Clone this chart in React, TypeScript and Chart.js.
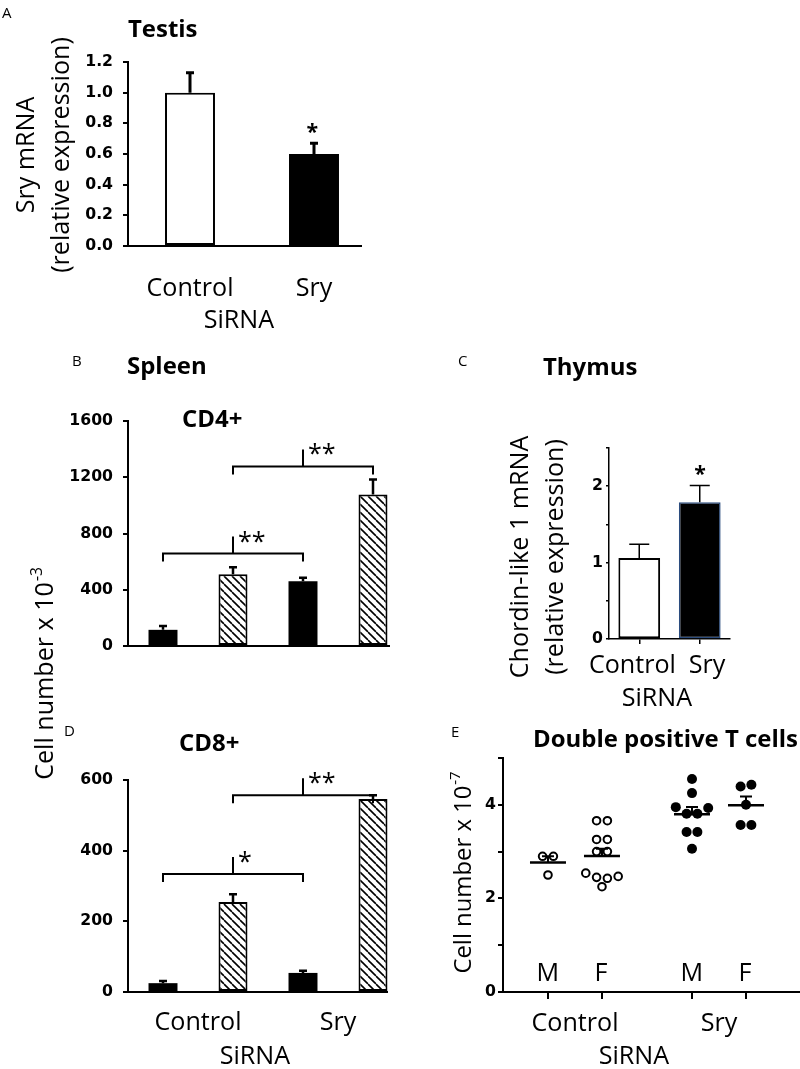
import React, { useEffect, useRef } from 'react';
import { Chart, registerables } from 'chart.js';

Chart.register(...registerables);

// ---------------- data ----------------
const testisCategories = ['Control', 'Sry'];
const testisValues = [1.0, 0.6];
const testisErrors = [0.13, 0.07];
const testisYTicks = [0, 0.2, 0.4, 0.6, 0.8, 1.0, 1.2];

const spleenGroups = ['Control', 'Sry'];
const spleenBars = ['Control (solid)', 'Control (hatched)', 'Sry (solid)', 'Sry (hatched)'];
const spleenFills = ['solid', 'hatched', 'solid', 'hatched'];

const cd4Values = [115, 510, 460, 1078];
const cd4Errors = [27, 50, 26, 106];
const cd4YTicks = [0, 400, 800, 1200, 1600];
const cd4Brackets = [
  { from: 0, to: 2, level: 657, label: '**' },
  { from: 1, to: 3, level: 1277, label: '**' },
];

const cd8Values = [25, 255, 54, 546];
const cd8Errors = [6, 22, 6, 11];
const cd8YTicks = [0, 200, 400, 600];
const cd8Brackets = [
  { from: 0, to: 2, level: 334, label: '*' },
  { from: 1, to: 3, level: 557, label: '**' },
];

const thymusCategories = ['Control', 'Sry'];
const thymusValues = [1.06, 1.79];
const thymusErrors = [0.18, 0.22];
const thymusYTicks = [0, 0.5, 1, 1.5, 2, 2.5];

const dpGroups = ['Control', 'Sry'];
const dpSexes = ['M', 'F'];
const dpControlM = [2.9, 2.9, 2.5];
const dpControlF = [3.66, 3.66, 3.26, 3.26, 3.0, 3.0, 2.54, 2.45, 2.43, 2.47, 2.25];
const dpSryM = [4.55, 4.25, 3.95, 3.81, 3.81, 3.93, 3.42, 3.42, 3.06];
const dpSryF = [4.39, 4.43, 4.0, 3.57, 3.57];
const dpYTicks = [0, 1, 2, 3, 4, 5];

// ---------------- layout / style ----------------
const W = 800;
const H = 1069;
const YW = 60;
const SANS = "'Open Sans', 'DejaVu Sans', sans-serif";
const TICKF = "'DejaVu Sans', sans-serif";

type Area = { left: number; top: number; right: number; bottom: number };
const areaA: Area = { left: 128, top: 62, right: 376, bottom: 246 };
const areaB: Area = { left: 128, top: 421, right: 408, bottom: 646 };
const areaC: Area = { left: 609, top: 448, right: 730, bottom: 639 };
const areaD: Area = { left: 128, top: 780, right: 408, bottom: 992 };
const areaE: Area = { left: 503, top: 758, right: 800, bottom: 992 };

const GROUP_GAP = 2.667;
const E_X_MIN = -0.833;
const E_X_MAX = 4.667;
const SWARM_STEP = 0.2;
const C_LABEL_SHIFT = [-7, 8];

function pad(a: Area, xh: number) {
  return { left: a.left - YW, top: a.top, right: W - a.right, bottom: H - a.bottom - xh };
}

function measureFonts() {
  const c = document.createElement('canvas').getContext('2d')!;
  const inkW = (t: string, f: string) => {
    c.font = f;
    const m = c.measureText(t);
    return m.actualBoundingBoxLeft + m.actualBoundingBoxRight;
  };
  const fit = (t: string, w: string, fam: string, target: number) => (100 * target) / inkW(t, `${w} 100px ${fam}`);
  const avg = (a: number[]) => a.reduce((s, v) => s + v, 0) / a.length;
  const title = avg([
    fit('Testis', 'bold', SANS, 64),
    fit('Spleen', 'bold', SANS, 79),
    fit('Thymus', 'bold', SANS, 90),
    fit('CD4+', 'bold', SANS, 62),
    fit('Double positive T cells', 'bold', SANS, 263),
  ]);
  const label = avg([
    fit('Control', 'normal', SANS, 86),
    fit('SiRNA', 'normal', SANS, 69),
    fit('(relative expression)', 'normal', SANS, 228),
  ]);
  const tick = 1.08 * avg([fit('1600', 'bold', TICKF, 38), fit('1.2', 'bold', TICKF, 23)]);
  c.font = `${label}px ${SANS}`;
  c.textBaseline = 'middle';
  const below = c.measureText('H').actualBoundingBoxDescent;
  return { title, label, tick, below };
}

function makeHatch() {
  const p = 8;
  const c = document.createElement('canvas');
  c.width = p;
  c.height = p;
  const g = c.getContext('2d')!;
  g.fillStyle = '#fff';
  g.fillRect(0, 0, p, p);
  g.strokeStyle = '#000';
  g.lineWidth = 1.6;
  for (let k = -1; k <= 1; k++) {
    g.beginPath();
    g.moveTo(k * p, 0);
    g.lineTo(k * p + p, p);
    g.stroke();
  }
  return g.createPattern(c, 'repeat')!;
}

function ink(ctx: CanvasRenderingContext2D, text: string, x: number, y: number, font: string,
  h: 'left' | 'center' | 'right' = 'left', v: 'base' | 'mid' = 'base') {
  ctx.save();
  ctx.font = font;
  ctx.fillStyle = '#000';
  ctx.textAlign = 'left';
  ctx.textBaseline = 'alphabetic';
  const m = ctx.measureText(text);
  const L = m.actualBoundingBoxLeft;
  const R = m.actualBoundingBoxRight;
  const ax = h === 'left' ? x + L : h === 'center' ? x - (R - L) / 2 : x - R;
  const ay = v === 'base' ? y : y - (m.actualBoundingBoxDescent - m.actualBoundingBoxAscent) / 2;
  ctx.fillText(text, ax, ay);
  ctx.restore();
}

function rotLines(ctx: CanvasRenderingContext2D, lines: string[], xs: number[], cy: number, size: number) {
  lines.forEach((t, i) => {
    ctx.save();
    ctx.translate(xs[i], cy);
    ctx.rotate(-Math.PI / 2);
    ctx.font = `${size}px ${SANS}`;
    ctx.fillStyle = '#000';
    ctx.textAlign = 'center';
    ctx.textBaseline = 'alphabetic';
    const capH = ctx.measureText('H').actualBoundingBoxAscent;
    ctx.fillText(t, 0, capH / 2);
    ctx.restore();
  });
}

function rotSup(ctx: CanvasRenderingContext2D, main: string, sup: string, cx: number, cy: number, size: number) {
  const supSize = size * 0.62;
  ctx.save();
  ctx.translate(cx, cy);
  ctx.rotate(-Math.PI / 2);
  ctx.fillStyle = '#000';
  ctx.textAlign = 'left';
  ctx.textBaseline = 'alphabetic';
  ctx.font = `${size}px ${SANS}`;
  const wm = ctx.measureText(main).width;
  const capH = ctx.measureText('H').actualBoundingBoxAscent;
  ctx.font = `${supSize}px ${SANS}`;
  const ws = ctx.measureText(sup).width;
  const x0 = -(wm + ws) / 2;
  ctx.font = `${size}px ${SANS}`;
  ctx.fillText(main, x0, capH / 2);
  ctx.font = `${supSize}px ${SANS}`;
  ctx.fillText(sup, x0 + wm + 1, capH / 2 - capH * 0.62);
  ctx.restore();
}

function hLine(ctx: CanvasRenderingContext2D, x1: number, x2: number, y: number, lw: number) {
  ctx.save();
  ctx.strokeStyle = '#000';
  ctx.lineWidth = lw;
  ctx.beginPath();
  ctx.moveTo(x1, y);
  ctx.lineTo(x2, y);
  ctx.stroke();
  ctx.restore();
}

function drawErrors(chart: any, values: number[], errors: number[], cap: number, lw: number) {
  const ctx = chart.ctx;
  const y = chart.scales.y;
  const meta = chart.getDatasetMeta(0);
  ctx.save();
  ctx.strokeStyle = '#000';
  ctx.lineWidth = lw;
  meta.data.forEach((el: any, i: number) => {
    const top = y.getPixelForValue(values[i] + errors[i]);
    ctx.beginPath();
    ctx.moveTo(el.x, el.y);
    ctx.lineTo(el.x, top);
    ctx.moveTo(el.x - cap / 2, top);
    ctx.lineTo(el.x + cap / 2, top);
    ctx.stroke();
  });
  ctx.restore();
}

function drawBrackets(chart: any, brackets: any[], font: string) {
  const ctx = chart.ctx;
  const x = chart.scales.x;
  const y = chart.scales.y;
  ctx.save();
  ctx.strokeStyle = '#000';
  ctx.lineWidth = 2;
  brackets.forEach((b) => {
    const x1 = x.getPixelForValue(b.from);
    const x2 = x.getPixelForValue(b.to);
    const yy = y.getPixelForValue(b.level);
    const xm = (x1 + x2) / 2;
    ctx.beginPath();
    ctx.moveTo(x1, yy + 8);
    ctx.lineTo(x1, yy);
    ctx.lineTo(x2, yy);
    ctx.lineTo(x2, yy + 8);
    ctx.moveTo(xm, yy);
    ctx.lineTo(xm, yy - 17);
    ctx.stroke();
    ink(ctx, b.label, xm + 6, yy - 17, font, 'left', 'mid');
  });
  ctx.restore();
}

function siRNAAt(ctx: CanvasRenderingContext2D, labels: string[], centers: number[], baseline: number, size: number) {
  const f = `${size}px ${SANS}`;
  ctx.save();
  ctx.font = f;
  let lo = Infinity;
  let hi = -Infinity;
  labels.forEach((t, i) => {
    const w = ctx.measureText(t).width;
    lo = Math.min(lo, centers[i] - w / 2);
    hi = Math.max(hi, centers[i] + w / 2);
  });
  ctx.restore();
  ink(ctx, 'SiRNA', (lo + hi) / 2, baseline, f, 'center', 'base');
}

function drawSiRNA(chart: any, scaleId: string, labels: string[], baseline: number, size: number) {
  const s = chart.scales[scaleId];
  siRNAAt(chart.ctx, labels, labels.map((_, i) => s.getPixelForTick(i)), baseline, size);
}

function swarm(values: number[], threshold: number) {
  const idx = values.map((_, i) => i).sort((a, b) => values[a] - values[b]);
  const rows: number[][] = [];
  let cur: number[] = [];
  let start = 0;
  idx.forEach((i) => {
    if (cur.length && values[i] - start > threshold) {
      rows.push(cur);
      cur = [];
    }
    if (!cur.length) start = values[i];
    cur.push(i);
  });
  if (cur.length) rows.push(cur);
  const off = values.map(() => 0);
  rows.forEach((r) => {
    r.sort((a, b) => a - b);
    r.forEach((i, k) => {
      off[i] = k - (r.length - 1) / 2;
    });
  });
  return off;
}

function meanSem(v: number[]) {
  const n = v.length;
  const m = v.reduce((s, x) => s + x, 0) / n;
  const sd = Math.sqrt(v.reduce((s, x) => s + (x - m) * (x - m), 0) / (n - 1));
  return { m, sem: sd / Math.sqrt(n) };
}

function yScale(arr: number[], fmt: (v: number) => string, F: any, tickLen: number, padding: number, lw: number) {
  return {
    type: 'linear',
    min: arr[0],
    max: arr[arr.length - 1],
    afterBuildTicks: (s: any) => {
      s.ticks = arr.map((v) => ({ value: v }));
    },
    afterFit: (s: any) => {
      s.width = YW;
    },
    ticks: {
      callback: (v: any) => fmt(Number(v)),
      font: { family: TICKF, size: F.tick, weight: 'bold' },
      color: '#000',
      padding,
      autoSkip: false,
    },
    grid: { display: true, drawOnChartArea: false, drawTicks: true, tickLength: tickLen, color: '#000', lineWidth: lw },
    border: { display: true, color: '#000', width: lw },
  };
}

function common(padding: any) {
  return {
    responsive: false,
    maintainAspectRatio: false,
    animation: false,
    events: [],
    layout: { padding, autoPadding: false },
    plugins: { legend: { display: false }, tooltip: { enabled: false }, title: { display: false } },
  };
}

export default function App() {
  const refA = useRef<HTMLCanvasElement>(null);
  const refB = useRef<HTMLCanvasElement>(null);
  const refC = useRef<HTMLCanvasElement>(null);
  const refD = useRef<HTMLCanvasElement>(null);
  const refE = useRef<HTMLCanvasElement>(null);

  useEffect(() => {
    const F = measureFonts();
    const hatch = makeHatch();
    const labelFont = `${F.label}px ${SANS}`;
    const titleFont = `bold ${F.title}px ${SANS}`;
    const letterFont = `15px ${SANS}`;
    const starFont = `${F.label}px ${SANS}`;
    const lpad = (baseline: number, top: number, tl: number) => baseline - top - tl - 0.6 * F.label - F.below;
    const catTicks = (padding: number) => ({
      font: { family: SANS, size: F.label },
      color: '#000',
      padding,
      maxRotation: 0,
      minRotation: 0,
      autoSkip: false,
    });
    const charts: Chart[] = [];

    // ---------- A: Testis ----------
    charts.push(new Chart(refA.current!, {
      type: 'bar',
      data: {
        labels: testisCategories,
        datasets: [{
          data: testisValues,
          xAxisID: 'x',
          yAxisID: 'y',
          backgroundColor: ['#ffffff', '#000000'],
          borderColor: '#000',
          borderWidth: [2, 0],
          borderSkipped: false,
          categoryPercentage: 1,
          barPercentage: 0.403,
        }],
      },
      options: {
        ...common(pad(areaA, 60)),
        scales: {
          x: {
            type: 'category',
            offset: true,
            grid: { display: false, drawTicks: false },
            border: { display: false },
            ticks: catTicks(lpad(296, areaA.bottom, 0)),
            afterFit: (s: any) => { s.height = 60; },
          },
          y: yScale(testisYTicks, (v) => v.toFixed(1), F, 5, 10, 2),
        },
      } as any,
      plugins: [{
        id: 'decoA',
        afterDatasetsDraw(chart: any) {
          const ctx = chart.ctx;
          const ca = chart.chartArea;
          hLine(ctx, ca.left - 1, ca.right - 14, ca.bottom, 2);
          drawErrors(chart, testisValues, testisErrors, 8, 3);
          const el = chart.getDatasetMeta(0).data[1];
          const top = chart.scales.y.getPixelForValue(testisValues[1] + testisErrors[1]);
          ink(ctx, '*', el.x - 2, top - 15, `bold ${F.label * 0.85}px ${SANS}`, 'center', 'mid');
        },
        afterDraw(chart: any) {
          const ctx = chart.ctx;
          ink(ctx, 'A', 2, 18, letterFont);
          ink(ctx, 'Testis', 128, 37, titleFont);
          rotLines(ctx, ['Sry mRNA', '(relative expression)'], [25, 60], 155, F.label);
          drawSiRNA(chart, 'x', testisCategories, 328, F.label);
        },
      }],
    } as any));

    const spleenColors = spleenFills.map((f) => (f === 'hatched' ? hatch : '#000000'));
    const spleenBorders = spleenFills.map((f) => (f === 'hatched' ? 2 : 0));

    // ---------- B: CD4+ ----------
    charts.push(new Chart(refB.current!, {
      type: 'bar',
      data: {
        labels: spleenBars,
        datasets: [{
          data: cd4Values,
          xAxisID: 'x',
          yAxisID: 'y',
          backgroundColor: spleenColors,
          borderColor: '#000',
          borderWidth: spleenBorders,
          borderSkipped: false,
          categoryPercentage: 1,
          barPercentage: 0.414,
        }],
      },
      options: {
        ...common(pad(areaB, 0)),
        scales: {
          x: {
            type: 'category',
            offset: true,
            grid: { display: false, drawTicks: false },
            border: { display: false },
            ticks: { display: false },
            afterFit: (s: any) => { s.height = 0; },
          },
          y: yScale(cd4YTicks, (v) => String(v), F, 5, 10, 2),
        },
      } as any,
      plugins: [{
        id: 'decoB',
        afterDatasetsDraw(chart: any) {
          const ctx = chart.ctx;
          const ca = chart.chartArea;
          hLine(ctx, ca.left - 1, ca.right - 18, ca.bottom, 2);
          drawErrors(chart, cd4Values, cd4Errors, 8, 2.5);
          drawBrackets(chart, cd4Brackets, starFont);
        },
        afterDraw(chart: any) {
          const ctx = chart.ctx;
          ink(ctx, 'B', 73, 366, letterFont);
          ink(ctx, 'Spleen', 128, 374, titleFont);
          ink(ctx, 'CD4+', 183, 427, titleFont);
          rotSup(ctx, 'Cell number x 10', '-3', 44, 674, F.label);
        },
      }],
    } as any));

    // ---------- C: Thymus ----------
    charts.push(new Chart(refC.current!, {
      type: 'bar',
      data: {
        labels: thymusCategories,
        datasets: [{
          data: thymusValues,
          xAxisID: 'x',
          yAxisID: 'y',
          backgroundColor: ['#ffffff', '#000000'],
          borderColor: ['#000000', '#2b4c7e'],
          borderWidth: [2, 1.5],
          borderSkipped: false,
          categoryPercentage: 1,
          barPercentage: 0.69,
        }],
      },
      options: {
        ...common(pad(areaC, 60)),
        scales: {
          x: {
            type: 'category',
            offset: true,
            grid: { display: true, offset: false, drawOnChartArea: false, drawTicks: true, tickLength: 5, color: '#000', lineWidth: 1.5 },
            border: { display: true, color: '#000', width: 1.5 },
            ticks: { display: false },
            afterFit: (s: any) => { s.height = 60; },
          },
          y: yScale(thymusYTicks, (v) => (Number.isInteger(v) ? String(v) : ''), F, 3, 3, 1.5),
        },
      } as any,
      plugins: [{
        id: 'decoC',
        afterDatasetsDraw(chart: any) {
          const ctx = chart.ctx;
          drawErrors(chart, thymusValues, thymusErrors, 20, 1.5);
          const el = chart.getDatasetMeta(0).data[1];
          const top = chart.scales.y.getPixelForValue(thymusValues[1] + thymusErrors[1]);
          ink(ctx, '*', el.x, top - 15, `bold ${F.label * 0.85}px ${SANS}`, 'center', 'mid');
        },
        afterDraw(chart: any) {
          const ctx = chart.ctx;
          const xs = chart.scales.x;
          const centers = thymusCategories.map((_, i) => xs.getPixelForTick(i) + C_LABEL_SHIFT[i]);
          thymusCategories.forEach((t, i) => ink(ctx, t, centers[i], 673, labelFont, 'center', 'base'));
          ink(ctx, 'C', 458, 366, letterFont);
          ink(ctx, 'Thymus', 543, 375, titleFont);
          rotLines(ctx, ['Chordin-like 1 mRNA', '(relative expression)'], [519, 554], 557, F.label);
          siRNAAt(ctx, thymusCategories, centers, 706, F.label);
        },
      }],
    } as any));

    // ---------- D: CD8+ ----------
    charts.push(new Chart(refD.current!, {
      type: 'bar',
      data: {
        labels: spleenBars,
        datasets: [{
          data: cd8Values,
          xAxisID: 'x',
          yAxisID: 'y',
          backgroundColor: spleenColors,
          borderColor: '#000',
          borderWidth: spleenBorders,
          borderSkipped: false,
          categoryPercentage: 1,
          barPercentage: 0.414,
        }],
      },
      options: {
        ...common(pad(areaD, 60)),
        scales: {
          x: {
            type: 'category',
            offset: true,
            grid: { display: false, drawTicks: false },
            border: { display: false },
            ticks: { display: false },
            afterFit: (s: any) => { s.height = 0; },
          },
          x2: {
            type: 'category',
            position: 'bottom',
            weight: 1,
            labels: spleenGroups,
            offset: true,
            grid: { display: false, drawTicks: false },
            border: { display: false },
            ticks: catTicks(lpad(1030, areaD.bottom, 0)),
            afterFit: (s: any) => { s.height = 60; },
          },
          y: yScale(cd8YTicks, (v) => String(v), F, 5, 10, 2),
        },
      } as any,
      plugins: [{
        id: 'decoD',
        afterDatasetsDraw(chart: any) {
          const ctx = chart.ctx;
          const ca = chart.chartArea;
          hLine(ctx, ca.left - 1, ca.right - 20, ca.bottom, 2);
          drawErrors(chart, cd8Values, cd8Errors, 8, 2.5);
          drawBrackets(chart, cd8Brackets, starFont);
        },
        afterDraw(chart: any) {
          const ctx = chart.ctx;
          ink(ctx, 'D', 65, 736, letterFont);
          ink(ctx, 'CD8+', 180, 751, titleFont);
          drawSiRNA(chart, 'x2', spleenGroups, 1064, F.label);
        },
      }],
    } as any));

    // ---------- E: Double positive T cells ----------
    const dpSeries = [
      { group: 0, sex: 0, values: dpControlM, filled: false },
      { group: 0, sex: 1, values: dpControlF, filled: false },
      { group: 1, sex: 0, values: dpSryM, filled: true },
      { group: 1, sex: 1, values: dpSryF, filled: true },
    ];
    const subPos = (g: number, s: number) => g * GROUP_GAP + s;
    charts.push(new Chart(refE.current!, {
      type: 'scatter',
      data: {
        datasets: dpSeries.map((s) => {
          const off = swarm(s.values, 0.15);
          return {
            label: `${dpGroups[s.group]} ${dpSexes[s.sex]}`,
            xAxisID: 'x',
            yAxisID: 'y',
            data: s.values.map((v, i) => ({ x: subPos(s.group, s.sex) + off[i] * SWARM_STEP, y: v })),
            pointRadius: s.filled ? 5 : 3.8,
            borderWidth: s.filled ? 0 : 2,
            backgroundColor: s.filled ? '#000' : '#fff',
            borderColor: '#000',
            showLine: false,
          };
        }),
      },
      options: {
        ...common(pad(areaE, 60)),
        scales: {
          x: {
            type: 'linear',
            min: E_X_MIN,
            max: E_X_MAX,
            afterBuildTicks: (s: any) => {
              s.ticks = [subPos(0, 0), subPos(0, 1), subPos(1, 0), subPos(1, 1)].map((v) => ({ value: v }));
            },
            ticks: { display: false },
            grid: { display: true, drawOnChartArea: false, drawTicks: true, tickLength: 7, color: '#000', lineWidth: 2 },
            border: { display: true, color: '#000', width: 2 },
            afterFit: (s: any) => { s.height = 0; },
          },
          x2: {
            type: 'linear',
            position: 'bottom',
            weight: 1,
            min: E_X_MIN,
            max: E_X_MAX,
            afterBuildTicks: (s: any) => {
              s.ticks = dpGroups.map((_, i) => ({ value: subPos(i, 0) + 0.5 }));
            },
            grid: { display: false, drawTicks: false },
            border: { display: false },
            ticks: { ...catTicks(lpad(1031, areaE.bottom, 0)), callback: (_v: any, i: number) => dpGroups[i] },
            afterFit: (s: any) => { s.height = 60; },
          },
          y: yScale(dpYTicks, (v) => (v % 2 === 0 ? String(v) : ''), F, 5, 2, 2),
        },
      } as any,
      plugins: [{
        id: 'decoE',
        afterDatasetsDraw(chart: any) {
          const ctx = chart.ctx;
          const x = chart.scales.x;
          const y = chart.scales.y;
          ctx.save();
          ctx.strokeStyle = '#000';
          dpSeries.forEach((s) => {
            const { m, sem } = meanSem(s.values);
            const px = x.getPixelForValue(subPos(s.group, s.sex));
            const pm = y.getPixelForValue(m);
            const ps = y.getPixelForValue(m + sem);
            ctx.lineWidth = 2.5;
            ctx.beginPath();
            ctx.moveTo(px - 18, pm);
            ctx.lineTo(px + 18, pm);
            ctx.stroke();
            ctx.lineWidth = 2;
            ctx.beginPath();
            ctx.moveTo(px, pm);
            ctx.lineTo(px, ps);
            ctx.moveTo(px - 6, ps);
            ctx.lineTo(px + 6, ps);
            ctx.stroke();
          });
          ctx.restore();
        },
        afterDraw(chart: any) {
          const ctx = chart.ctx;
          const x = chart.scales.x;
          dpSeries.forEach((s) => {
            ink(ctx, dpSexes[s.sex], x.getPixelForValue(subPos(s.group, s.sex)), 981, labelFont, 'center', 'base');
          });
          ink(ctx, 'E', 452, 737, letterFont);
          ink(ctx, 'Double positive T cells', 535, 747, titleFont);
          rotSup(ctx, 'Cell number x 10', '-7', 462, 873, F.label * 0.95);
          drawSiRNA(chart, 'x2', dpGroups, 1064, F.label);
        },
      }],
    } as any));

    return () => {
      charts.forEach((c) => c.destroy());
    };
  }, []);

  const cs: React.CSSProperties = { position: 'absolute', left: 0, top: 0, width: W, height: H };
  return (
    <div style={{ position: 'absolute', left: 0, top: 0, width: W, height: H, background: '#fff', overflow: 'hidden' }}>
      <canvas ref={refA} width={W} height={H} style={cs} />
      <canvas ref={refB} width={W} height={H} style={cs} />
      <canvas ref={refC} width={W} height={H} style={cs} />
      <canvas ref={refD} width={W} height={H} style={cs} />
      <canvas ref={refE} width={W} height={H} style={cs} />
    </div>
  );
}
